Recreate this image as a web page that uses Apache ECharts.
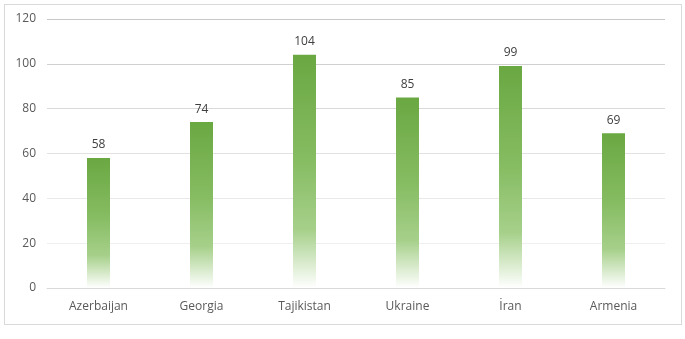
<!DOCTYPE html>
<html>
<head>
<meta charset="utf-8">
<script src="https://cdn.jsdelivr.net/npm/echarts@6/dist/echarts.min.js"></script>
<style>
html,body{margin:0;padding:0;background:#fff;}
#wrap{position:relative;width:685px;height:339px;}
#frame{position:absolute;left:4px;top:4px;width:676px;height:319px;border:1px solid #d9d9d9;}
#chart{position:absolute;left:0;top:0;width:685px;height:339px;}
</style>
</head>
<body>
<div id="wrap"><div id="frame"></div><div id="chart"></div></div>
<script>
const categories = ['Azerbaijan', 'Georgia', 'Tajikistan', 'Ukraine', 'İran', 'Armenia'];
const values = [58, 74, 104, 85, 99, 69];
const yMin = 0, yMax = 120, yStep = 20;

const chart = echarts.init(document.getElementById('chart'), null, {renderer: 'canvas'});
const font = '"Open Sans", "Liberation Sans", sans-serif';
chart.setOption({
  animation: false,
  grid: {left: 47, right: 20, top: 19, bottom: 51},
  xAxis: {
    type: 'category',
    data: categories,
    axisLine: {lineStyle: {color: '#d9d9d9', width: 1}},
    axisTick: {show: false},
    axisLabel: {color: '#595959', fontSize: 12, fontFamily: font, margin: 13}
  },
  yAxis: {
    type: 'value',
    min: yMin, max: yMax, interval: yStep,
    axisLine: {show: false},
    axisTick: {show: false},
    axisLabel: {color: '#595959', fontSize: 12, fontFamily: font, margin: 11},
    splitLine: {lineStyle: {color: ['#d9d9d9', '#efefef', '#e9e9e9', '#e2e2e2', '#d9d9d9', '#d0d0d0', '#c8c8c8'], width: 1}}
  },
  series: [{
    type: 'bar',
    data: values,
    barWidth: 23,
    itemStyle: {
      color: new echarts.graphic.LinearGradient(0, 0, 0, 1, [
        {offset: 0, color: '#6aa842'},
        {offset: 0.45, color: '#86bc62'},
        {offset: 0.75, color: '#a6d08a'},
        {offset: 1, color: '#ffffff'}
      ])
    },
    label: {
      show: true, position: 'top', distance: 7,
      color: '#404040', fontSize: 12, fontFamily: font
    }
  }]
});
</script>
</body>
</html>
